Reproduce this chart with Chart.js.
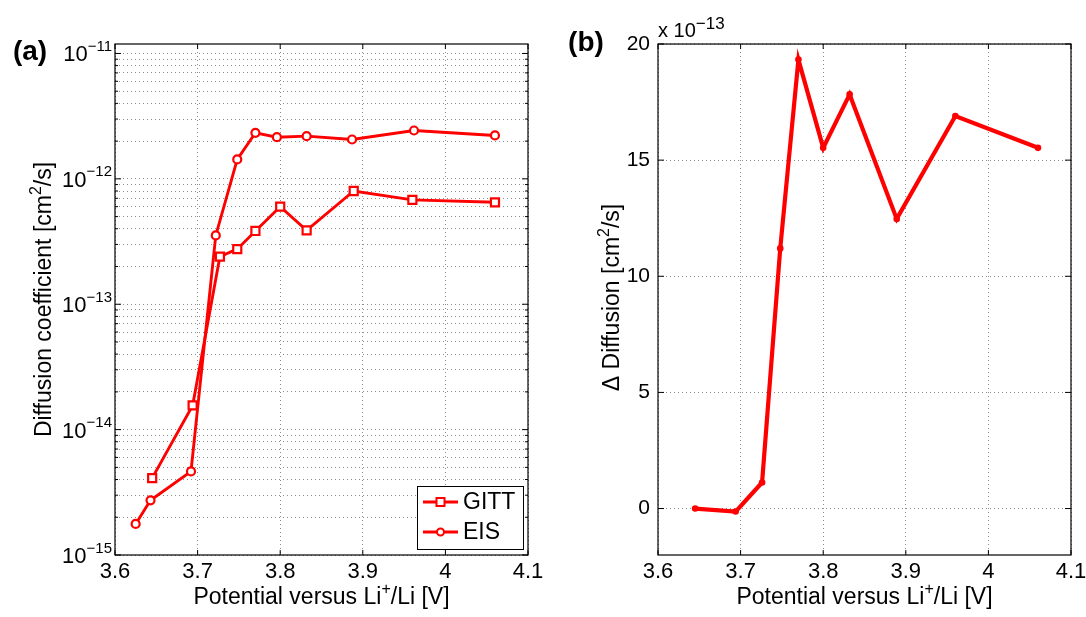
<!DOCTYPE html>
<html>
<head>
<meta charset="utf-8">
<title>Diffusion coefficient vs potential</title>
<script src="https://cdn.jsdelivr.net/npm/chart.js@4.4.1/dist/chart.umd.min.js"></script>
<style>
  html, body { margin: 0; padding: 0; background: #fff; overflow: hidden; }
  #wrap { position: relative; width: 1086px; height: 617px; }
  #leftBox { position: absolute; left: 0; top: 0; }
  #rightBox { position: absolute; left: 543px; top: 0; }
</style>
</head>
<body>
<div id="wrap">
  <div id="leftBox"><canvas id="diffChart" width="560" height="617"></canvas></div>
  <div id="rightBox"><canvas id="deltaChart" width="567" height="617"></canvas></div>
</div>
<script>
// panel (a): potential [V] and diffusion coefficient [cm^2/s]
const gittPotential = [3.645, 3.694, 3.727, 3.748, 3.770, 3.800, 3.832, 3.889, 3.960, 4.060];
const gittDiffusion = [4.1e-15, 1.56e-14, 2.4e-13, 2.75e-13, 3.84e-13, 6.0e-13, 3.88e-13, 8.0e-13, 6.8e-13, 6.5e-13];
const eisPotential = [3.625, 3.643, 3.692, 3.722, 3.748, 3.770, 3.796, 3.832, 3.887, 3.962, 4.060];
const eisDiffusion = [1.77e-15, 2.73e-15, 4.64e-15, 3.54e-13, 1.43e-12, 2.33e-12, 2.15e-12, 2.19e-12, 2.06e-12, 2.43e-12, 2.22e-12];

// panel (b): difference EIS - GITT, in units of 1e-13 cm^2/s
const deltaPotential = [3.645, 3.694, 3.726, 3.748, 3.770, 3.800, 3.832, 3.889, 3.960, 4.060];
const deltaDiffusion = [0.0, -0.13, 1.12, 11.2, 19.33, 15.53, 17.83, 12.47, 16.9, 15.53];

// tick labels
const potentialTicks = [3.6, 3.7, 3.8, 3.9, 4.0, 4.1];
const diffusionExponents = [-15, -14, -13, -12, -11];
const deltaTicks = [0, 5, 10, 15, 20];

const RED = "#ff0000";
const FONT = "'Liberation Sans', Arial, Helvetica, sans-serif";
const GRID = "rgba(0,0,0,0.45)";

Chart.defaults.font.family = FONT;
Chart.defaults.color = "#000";

// draw text with superscript pieces, parts = [[text, isSup], ...]
function drawRich(ctx, parts, x, y, size, align, supSize) {
  supSize = supSize || Math.round(size * 0.7);
  const widths = parts.map(([t, sup]) => {
    ctx.font = (sup ? supSize : size) + "px " + FONT;
    return ctx.measureText(t).width;
  });
  const total = widths.reduce((a, b) => a + b, 0);
  let cx = x;
  if (align === "center") cx = x - total / 2;
  if (align === "right") cx = x - total;
  ctx.textAlign = "left";
  ctx.textBaseline = "alphabetic";
  parts.forEach(([t, sup], i) => {
    ctx.font = (sup ? supSize : size) + "px " + FONT;
    ctx.fillText(t, cx, sup ? y - size * 0.42 : y);
    cx += widths[i];
  });
}

// box around the plot and inward tick marks like the original
function drawFrame(chart, yMajor, yMinor) {
  const { ctx, chartArea: a, scales } = chart;
  ctx.save();
  ctx.strokeStyle = "#000";
  ctx.lineWidth = 1.2;
  ctx.strokeRect(a.left, a.top, a.right - a.left, a.bottom - a.top);
  ctx.lineWidth = 1;
  ctx.beginPath();
  potentialTicks.forEach(v => {
    const px = scales.x.getPixelForValue(v);
    ctx.moveTo(px, a.bottom); ctx.lineTo(px, a.bottom - 5);
    ctx.moveTo(px, a.top); ctx.lineTo(px, a.top + 5);
  });
  yMajor.forEach(v => {
    const py = scales.y.getPixelForValue(v);
    ctx.moveTo(a.left, py); ctx.lineTo(a.left + 6, py);
    ctx.moveTo(a.right, py); ctx.lineTo(a.right - 6, py);
  });
  yMinor.forEach(v => {
    const py = scales.y.getPixelForValue(v);
    ctx.moveTo(a.left, py); ctx.lineTo(a.left + 3, py);
    ctx.moveTo(a.right, py); ctx.lineTo(a.right - 3, py);
  });
  ctx.stroke();
  ctx.restore();
}

function xTitle(chart) {
  const { ctx, chartArea: a } = chart;
  ctx.fillStyle = "#000";
  drawRich(ctx, [["Potential versus Li", false], ["+", true], ["/Li [V]", false]],
    (a.left + a.right) / 2, 604, 23, "center", 16);
}

function panelLabel(ctx, text, x, y) {
  ctx.font = "bold 28px " + FONT;
  ctx.textAlign = "center";
  ctx.textBaseline = "middle";
  ctx.fillStyle = "#000";
  ctx.fillText(text, x, y);
}

// grid positions for the log axis: 1..9 in every decade
const logGrid = [];
for (let e = diffusionExponents[0]; e < diffusionExponents[diffusionExponents.length - 1]; e++) {
  for (let m = 1; m <= 9; m++) logGrid.push(m * Math.pow(10, e));
}
logGrid.push(Math.pow(10, diffusionExponents[diffusionExponents.length - 1]));

function xScale() {
  return {
    type: "linear",
    min: 3.6,
    max: 4.1,
    afterBuildTicks: s => { s.ticks = potentialTicks.map(v => ({ value: v })); },
    afterFit: s => { s.height = 62; },
    ticks: { font: { size: 22 }, color: "#000", padding: 4, maxRotation: 0,
      callback: v => String(+v.toFixed(1)) },
    grid: { color: GRID, lineWidth: 1, drawTicks: false },
    border: { display: false, dash: [1, 3] }
  };
}

const panelA = {
  id: "panelA",
  afterDraw(chart) {
    const { ctx, chartArea: a, scales } = chart;
    const yMajor = diffusionExponents.map(e => Math.pow(10, e));
    drawFrame(chart, yMajor, logGrid.filter(v => !yMajor.includes(v)));

    // 10^n tick labels
    ctx.save();
    ctx.fillStyle = "#000";
    diffusionExponents.forEach(e => {
      const py = scales.y.getPixelForValue(Math.pow(10, e));
      const sup = "\u2212" + Math.abs(e);
      ctx.font = "15px " + FONT;
      const w2 = ctx.measureText(sup).width;
      ctx.textAlign = "right";
      ctx.textBaseline = "alphabetic";
      ctx.fillText(sup, a.left - 3, py - 2.5);
      ctx.font = "22px " + FONT;
      ctx.fillText("10", a.left - 3 - w2, py + 8);
    });

    // axis titles
    xTitle(chart);
    ctx.save();
    ctx.translate(51, (a.top + a.bottom) / 2);
    ctx.rotate(-Math.PI / 2);
    drawRich(ctx, [["Diffusion coefficient [cm", false], ["2", true], ["/s]", false]], 0, 0, 23, "center", 16);
    ctx.restore();

    panelLabel(ctx, "(a)", 30, 52);

    // legend in the lower right corner
    const lx = 417, ly = 486, lw = 106, lh = 63;
    ctx.fillStyle = "#fff";
    ctx.fillRect(lx, ly, lw, lh);
    ctx.strokeStyle = "#000";
    ctx.lineWidth = 1;
    ctx.strokeRect(lx + 0.5, ly + 0.5, lw, lh);
    chart.data.datasets.forEach((ds, i) => {
      const yy = ly + 16 + i * 30;
      ctx.strokeStyle = ds.borderColor;
      ctx.lineWidth = ds.borderWidth;
      ctx.beginPath();
      ctx.moveTo(lx + 6, yy); ctx.lineTo(lx + 41, yy);
      ctx.stroke();
      ctx.fillStyle = "#fff";
      ctx.lineWidth = 2;
      ctx.beginPath();
      if (ds.pointStyle === "rect") ctx.rect(lx + 19.5, yy - 4, 8, 8);
      else ctx.arc(lx + 23.5, yy, 3.5, 0, Math.PI * 2);
      ctx.fill();
      ctx.stroke();
      ctx.fillStyle = "#000";
      ctx.font = "23px " + FONT;
      ctx.textAlign = "left";
      ctx.textBaseline = "middle";
      ctx.fillText(ds.label, lx + 46, yy + 1);
    });
    ctx.restore();
  }
};

const panelB = {
  id: "panelB",
  afterDraw(chart) {
    const { ctx, chartArea: a } = chart;
    drawFrame(chart, deltaTicks, []);
    ctx.save();
    xTitle(chart);
    ctx.save();
    ctx.translate(76, (a.top + a.bottom) / 2 - 2);
    ctx.rotate(-Math.PI / 2);
    drawRich(ctx, [["\u0394 Diffusion [cm", false], ["2", true], ["/s]", false]], 0, 0, 23, "center", 16);
    ctx.restore();
    // exponent of the y axis
    ctx.fillStyle = "#000";
    drawRich(ctx, [["x 10", false], ["\u221213", true]], a.left, 37, 20, "left", 17);
    panelLabel(ctx, "(b)", 43, 43);
    ctx.restore();
  }
};

new Chart(document.getElementById("diffChart"), {
  type: "line",
  data: {
    datasets: [
      {
        label: "GITT",
        data: gittPotential.map((x, i) => ({ x, y: gittDiffusion[i] })),
        borderColor: RED,
        borderWidth: 2.9,
        pointStyle: "rect",
        pointRadius: 5.7,
        pointBorderWidth: 2.2,
        pointBorderColor: RED,
        pointBackgroundColor: "#fff"
      },
      {
        label: "EIS",
        data: eisPotential.map((x, i) => ({ x, y: eisDiffusion[i] })),
        borderColor: RED,
        borderWidth: 2.9,
        pointStyle: "circle",
        pointRadius: 4,
        pointBorderWidth: 2.2,
        pointBorderColor: RED,
        pointBackgroundColor: "#fff"
      }
    ]
  },
  options: {
    responsive: false,
    animation: false,
    layout: { padding: { left: 0, right: 32, top: 44, bottom: 0 } },
    plugins: { legend: { display: false }, tooltip: { enabled: false } },
    scales: {
      x: xScale(),
      y: {
        type: "logarithmic",
        min: 1e-15,
        max: 1.19e-11,
        afterBuildTicks: s => { s.ticks = logGrid.map(v => ({ value: v })); },
        afterFit: s => { s.width = 115; },
        ticks: { display: false },
        grid: { color: GRID, lineWidth: 1, drawTicks: false },
        border: { display: false, dash: [1, 3] }
      }
    }
  },
  plugins: [panelA]
});

new Chart(document.getElementById("deltaChart"), {
  type: "line",
  data: {
    datasets: [
      {
        label: "Delta",
        data: deltaPotential.map((x, i) => ({ x, y: deltaDiffusion[i] })),
        borderColor: RED,
        borderWidth: 4.2,
        pointStyle: "circle",
        pointRadius: 3.3,
        pointBorderWidth: 0,
        pointBackgroundColor: RED
      }
    ]
  },
  options: {
    responsive: false,
    animation: false,
    layout: { padding: { left: 0, right: 39, top: 44, bottom: 0 } },
    plugins: { legend: { display: false }, tooltip: { enabled: false } },
    scales: {
      x: xScale(),
      y: {
        type: "linear",
        min: -2,
        max: 20,
        afterBuildTicks: s => { s.ticks = deltaTicks.map(v => ({ value: v })); },
        afterFit: s => { s.width = 115; },
        ticks: { font: { size: 21 }, color: "#000", padding: 8 },
        grid: { color: GRID, lineWidth: 1, drawTicks: false },
        border: { display: false, dash: [1, 3] }
      }
    }
  },
  plugins: [panelB]
});
</script>
</body>
</html>
